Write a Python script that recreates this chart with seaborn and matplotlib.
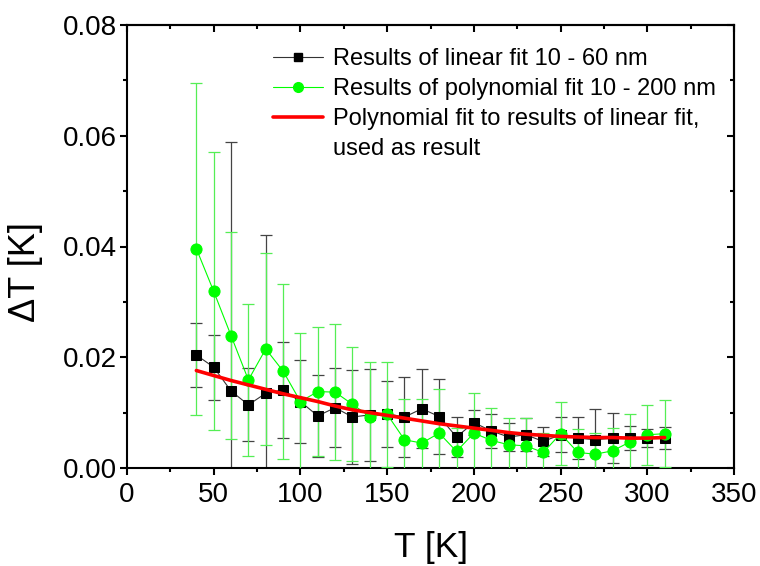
import matplotlib
matplotlib.use("Agg")
import matplotlib.pyplot as plt
from matplotlib.ticker import MultipleLocator, FormatStrFormatter
from matplotlib.lines import Line2D
import seaborn as sns
import pandas as pd

# Temperature steps [K]
temps = [40, 50, 60, 70, 80, 90, 100, 110, 120, 130, 140, 150, 160, 170,
         180, 190, 200, 210, 220, 230, 240, 250, 260, 270, 280, 290, 300, 310]

# Linear fit 10 - 60 nm
lin_dT = [0.0204, 0.0182, 0.0139, 0.0114, 0.0135, 0.0141, 0.0120, 0.0094,
          0.0109, 0.0092, 0.0096, 0.0098, 0.0092, 0.0107, 0.0093, 0.0056,
          0.0082, 0.0067, 0.0056, 0.0060, 0.0048, 0.0060, 0.0054, 0.0051,
          0.0054, 0.0054, 0.0054, 0.0054]
lin_err = [0.0058, 0.0059, 0.0449, 0.0066, 0.0285, 0.0087, 0.0075, 0.0074,
           0.0071, 0.0085, 0.0083, 0.0060, 0.0072, 0.0071, 0.0068, 0.0036,
           0.0023, 0.0031, 0.0026, 0.0030, 0.0026, 0.0032, 0.0038, 0.0056,
           0.0045, 0.0021, 0.0016, 0.0020]

# Polynomial fit 10 - 200 nm
poly_dT = [0.0396, 0.0319, 0.0239, 0.0159, 0.0215, 0.0175, 0.0120, 0.0138,
           0.0137, 0.0115, 0.0093, 0.0097, 0.0051, 0.0045, 0.0063, 0.0030,
           0.0063, 0.0050, 0.0042, 0.0040, 0.0028, 0.0062, 0.0028, 0.0025,
           0.0031, 0.0047, 0.0060, 0.0062]
poly_err = [0.0300, 0.0251, 0.0187, 0.0137, 0.0173, 0.0158, 0.0124, 0.0117,
            0.0123, 0.0103, 0.0098, 0.0095, 0.0073, 0.0079, 0.0080, 0.0042,
            0.0072, 0.0058, 0.0048, 0.0050, 0.0036, 0.0057, 0.0042, 0.0039,
            0.0042, 0.0051, 0.0054, 0.0060]

# Smooth polynomial through the linear-fit results (used as result)
result_dT = [0.0176, 0.0167, 0.0158, 0.0150, 0.0142, 0.0134, 0.0127, 0.0120,
             0.0112, 0.0105, 0.0100, 0.0095, 0.0090, 0.0085, 0.0080, 0.0076,
             0.0072, 0.0068, 0.0064, 0.0061, 0.0059, 0.0057, 0.0056, 0.0055,
             0.0055, 0.0054, 0.0054, 0.0055]

labels = ["Results of linear fit 10 - 60 nm",
          "Results of polynomial fit 10 - 200 nm",
          "Polynomial fit to results of linear fit,",
          "used as result"]

df = pd.DataFrame({"T": temps, "lin": lin_dT, "lin_err": lin_err,
                   "poly": poly_dT, "poly_err": poly_err, "res": result_dT})

sns.set_theme(style="ticks")
plt.rcParams["font.family"] = ["Liberation Sans", "DejaVu Sans"]
plt.rcParams.update({"text.color": "black", "axes.labelcolor": "black",
                     "xtick.color": "black", "ytick.color": "black",
                     "axes.linewidth": 1.5})

fig = plt.figure(figsize=(7.6, 5.66), dpi=100)
ax = fig.add_axes([127 / 760, 1 - 468 / 566, 607 / 760, 443 / 566])

GREEN = "#00ff00"

# error bars
ax.errorbar(df["T"], df["lin"], yerr=df["lin_err"], fmt="none",
            ecolor="#444444", elinewidth=0.9, capsize=4.5, capthick=0.9, zorder=2)
ax.errorbar(df["T"], df["poly"], yerr=df["poly_err"], fmt="none",
            ecolor="#55ee55", elinewidth=0.9, capsize=4.5, capthick=0.9, zorder=3)

# series
sns.lineplot(data=df, x="T", y="lin", ax=ax, color="#333333", lw=0.8,
             marker="s", markersize=7, markerfacecolor="black",
             markeredgecolor="black", errorbar=None, zorder=4)
sns.lineplot(data=df, x="T", y="poly", ax=ax, color=GREEN, lw=0.8,
             marker="o", markersize=8, markerfacecolor=GREEN,
             markeredgecolor=GREEN, errorbar=None, zorder=5)
sns.lineplot(data=df, x="T", y="res", ax=ax, color="red", lw=2.6,
             errorbar=None, zorder=6)

ax.set_xlim(0, 350)
ax.set_ylim(0, 0.08)
ax.xaxis.set_major_locator(MultipleLocator(50))
ax.xaxis.set_minor_locator(MultipleLocator(25))
ax.yaxis.set_major_locator(MultipleLocator(0.02))
ax.yaxis.set_minor_locator(MultipleLocator(0.01))
ax.yaxis.set_major_formatter(FormatStrFormatter("%.2f"))
ax.tick_params(which="major", direction="out", length=5, width=1.5,
               labelsize=20, colors="black")
ax.tick_params(axis="y", which="major", pad=2)
ax.tick_params(axis="x", which="major", pad=5)
ax.tick_params(which="minor", direction="out", length=3, width=1.5)
for s in ax.spines.values():
    s.set_visible(True)
    s.set_linewidth(1.5)
    s.set_color("black")

# mirrored ticks on top and right, pointing inward
top = ax.secondary_xaxis("top")
top.xaxis.set_major_locator(MultipleLocator(50))
top.xaxis.set_minor_locator(MultipleLocator(25))
top.tick_params(which="major", direction="in", length=5, width=1.5, labeltop=False)
top.tick_params(which="minor", direction="in", length=3, width=1.5)
right = ax.secondary_yaxis("right")
right.yaxis.set_major_locator(MultipleLocator(0.02))
right.yaxis.set_minor_locator(MultipleLocator(0.01))
right.tick_params(which="major", direction="in", length=5, width=1.5, labelright=False)
right.tick_params(which="minor", direction="in", length=3, width=1.5)

ax.set_xlabel("T [K]", fontsize=25.5, labelpad=17)
ax.set_ylabel("\u0394T [K]", fontsize=26)
ax.yaxis.set_label_coords(-0.138, 0.442)

handles = [
    Line2D([], [], color="#333333", lw=0.8, marker="s", markersize=6,
           markerfacecolor="black", markeredgecolor="black"),
    Line2D([], [], color=GREEN, lw=0.8, marker="o", markersize=7,
           markerfacecolor=GREEN, markeredgecolor=GREEN),
    Line2D([], [], color="red", lw=2.6),
    Line2D([], [], color="none", lw=0),
]
ax.legend(handles, labels, loc="upper left", bbox_to_anchor=(0.2405, 0.947),
          frameon=False, fontsize=17, handlelength=2.1, handletextpad=0.45,
          labelspacing=0.33, borderpad=0, borderaxespad=0)

fig.savefig("out.png", dpi=100)
